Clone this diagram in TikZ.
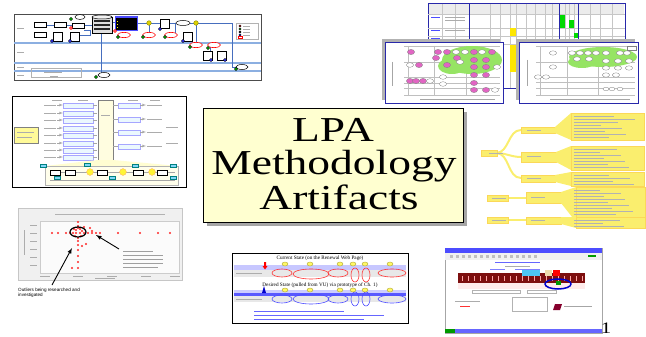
\documentclass[tikz,border=0pt]{standalone}
\usepackage{fontspec}
\setmainfont{Liberation Serif}
\newfontfamily\thumbsans{Liberation Sans}
\usetikzlibrary{positioning,shapes,shadows}

\definecolor{slideyellow}{RGB}{255,255,208}
\definecolor{laneblue}{RGB}{140,175,225}
\definecolor{linkblue}{RGB}{70,110,190}
\definecolor{mapyellow}{RGB}{250,238,110}
\definecolor{blobgreen}{RGB}{150,228,100}
\definecolor{dotpink}{RGB}{215,50,175}
\definecolor{bandred}{RGB}{125,15,15}
\definecolor{frameblue}{RGB}{40,40,170}

\tikzset{
  thumbframe/.style={draw=#1, line width=0.9pt, fill=white},
  titlebox/.style={draw=black, line width=0.8pt, fill=slideyellow,
    drop shadow={shadow xshift=4pt, shadow yshift=-4pt, fill=gray!70, opacity=1}},
  bigtext/.style={font=\fontsize{35}{36}\selectfont, inner sep=0pt},
  tinytext/.style={font=\thumbsans\fontsize{4.6}{5.4}\selectfont, inner sep=0pt, align=left},
  tinyserif/.style={font=\fontsize{5.2}{6}\selectfont, inner sep=0pt},
  flowbox/.style={draw=black, line width=0.5pt, fill=white},
  flowline/.style={draw=linkblue, line width=0.7pt},
  redoval/.style={draw=red, line width=0.6pt, fill=white},
  greendot/.style={draw=black, line width=0.3pt, fill=green!70!black},
  bluedot/.style={draw=black, line width=0.3pt, fill=blue!80},
  textbar/.style={draw=gray!65, line width=0.5pt},
  pinkdot/.style={draw=gray, line width=0.3pt, fill=dotpink!75},
  whitedot/.style={draw=gray, line width=0.3pt, fill=white},
  mapbox/.style={fill=mapyellow, draw=mapyellow!80!orange, line width=0.3pt},
  reddot/.style={fill=red!85}
}

\begin{document}
\begin{tikzpicture}[x=1pt, y=-1pt]
\useasboundingbox (0,0) rectangle (646,337);

% Flow chart (top left)
\draw[thumbframe=gray!60!black] (14,14) rectangle (261,80);
\foreach \y in {43,63,71}
  \draw[laneblue, line width=1.3pt] (14,\y) -- (261,\y);
\foreach \y in {28,52,67,75}
  \draw[textbar] (17,\y) -- (24,\y);
\draw[flowline] (46,25) -- (54,25);
\draw[flowline] (66,25) -- (72,25);
\draw[flowline] (84,25) -- (92,25);
\draw[flowline] (112,22) -- (115,22);
\draw[flowline] (137,23) -- (176,23);
\draw[flowline] (190,23) -- (232,23) -- (232,67) -- (236,67);
\draw[flowline] (196,23) -- (196,45);
\draw[flowline] (101,33) -- (101,75);
\draw[flowline] (149,23) -- (149,35);
\draw[flowline] (175,23) -- (175,35);
\draw[flowline] (210,45) -- (210,51);
\draw[flowline] (84,30) -- (90,30) -- (90,35) -- (80,35);
\foreach \x/\y in {40/25,40/35,60/25,78/26}
  \draw[flowbox] (\x-6,\y-2.5) rectangle (\x+6,\y+2.5);
\foreach \x/\y in {53/32,70/32,160/19,183/32,203/51,217/51}
  \draw[flowbox] (\x,\y) rectangle (\x+9,\y+9);
\draw[flowbox, fill=gray!25] (92,17) rectangle (112,33);
\draw[flowbox, fill=gray!10] (102,17) ellipse (10 and 2);
\foreach \y in {20,24,28}
  \fill[black!85] (94,\y) rectangle (110,\y+2.5);
\draw[fill=black, draw=blue!70] (115,16) rectangle (137,30);
\fill[blue!70] (115,16) rectangle (137,18.5);
\foreach \y in {21,24,27}
  \fill[yellow] (116.5,\y) rectangle (118,\y+1.2);
\foreach \x in {149,196}
  \draw[fill=yellow!70!olive, draw=olive] (\x,23) circle (2.3);
\foreach \x/\y/\rw in {80/17/5,183/23/7,104/75/6,242/67/6}
  \draw[flowbox] (\x,\y) ellipse ({\rw} and 2.5);
\foreach \x/\y in {124/35,149/35,171/35,196/45,214/45}
  \draw[redoval] (\x,\y) ellipse (6.5 and 2.6);
\foreach \x/\y in {71/19,118/37,143/37,165/37,96/77,236/69,190/47,208/48}
  \draw[greendot] (\x,\y) circle (1.7);
\foreach \x/\y in {52/41,70/41,160/29,183/41,211/60,225/60}
  \draw[bluedot] (\x,\y) circle (1.7);
\draw[red, fill=red!60] (115,31) circle (1.7);
\draw[red, fill=red!60] (71,28) circle (1.7);
\draw[draw=gray!60, line width=0.8pt, fill=white] (236,23) rectangle (258,39);
\foreach \y/\c in {26/red,29/green!70!black,32/black,35/blue} {
  \draw[fill=\c] (240,\y) circle (1.2);
  \draw[textbar] (243,\y) -- (250,\y);
}
\draw[red] (238,36.5) rectangle (242,38.5);
\draw[gray!60, line width=1pt] (31,69) rectangle (81,78);
\draw[textbar] (44,72) -- (62,72);
\draw[textbar] (50,76) -- (58,76);

% Spread sheet (top right)
\draw[thumbframe=frameblue] (428,3) rectangle (625,88);
\fill[gray!15] (429,4) rectangle (624,14);
\foreach \x in {442,455,469,490,500,510,516,526,535,545,552,559,565,569,574,578,590,600,612}
  \draw[gray!45, line width=0.3pt] (\x,4) -- (\x,88);
\foreach \y in {14,28,36,44}
  \draw[gray!45, line width=0.3pt] (428,\y) -- (625,\y);
\foreach \x in {469,559,578}
  \draw[frameblue, line width=0.8pt] (\x,3) -- (\x,88);
\fill[green!85!black] (560,15) rectangle (565,28);
\fill[green!85!black] (569,20) rectangle (574,28);
\fill[green!85!black] (574,33) rectangle (578,38);
\fill[yellow!90!orange] (510,28) rectangle (516,36);
\fill[yellow!90!orange] (510,45) rectangle (516,72);
\foreach \y in {17,30,38}
  \draw[blue!70, line width=0.6pt] (431,\y) -- (440,\y);
\foreach \y in {17,20,30}
  \draw[textbar] (445,\y) -- (465,\y);

% Left matrix chart
\fill[gray!60] (382,39) rectangle (500,100);
\draw[thumbframe=frameblue] (385,42) rectangle (503,103);
\foreach \x in {408,434,466}
  \draw[gray!50, line width=0.3pt] (\x,46) -- (\x,95);
\foreach \y in {46,62,77,83,88,95}
  \draw[gray!50, line width=0.3pt] (404,\y) -- (500,\y);
\draw[gray!70, line width=0.8pt] (392,62) -- (392,86);
\draw[gray!70, line width=0.8pt] (420,99) -- (495,99);
\fill[blobgreen] (472,60) ellipse (30 and 14);
\fill[blobgreen] (452,66) ellipse (14 and 8);
\foreach \x/\y in {411/52,419/65,410/81,416/81,423/81,438/52,447/52,436/58,447/65,457/58,474/52,492/52,474/60,486/60,474/67,486/67,474/75,486/75,474/83,474/90,486/90}
  \draw[pinkdot] (\x,\y) ellipse (3.6 and 2.6);
\foreach \x/\y in {410/65,430/81,456/52,465/52,460/62,482/52,497/67,443/77,443/84,495/90}
  \draw[whitedot] (\x,\y) ellipse (3.6 and 2.3);

% Right matrix chart
\fill[gray!60] (516,39) rectangle (635,100);
\draw[thumbframe=frameblue] (519,42) rectangle (638,103);
\foreach \x in {540,567,598}
  \draw[gray!50, line width=0.3pt] (\x,46) -- (\x,95);
\foreach \y in {46,62,77,82,88,95}
  \draw[gray!50, line width=0.3pt] (536,\y) -- (635,\y);
\draw[gray!70, line width=0.8pt] (527,60) -- (527,86);
\draw[gray!70, line width=0.8pt] (550,99) -- (630,99);
\fill[blobgreen] (603,57) ellipse (34 and 10);
\fill[blobgreen] (582,62) ellipse (14 and 6);
\foreach \x/\y in {572/53,580/53,588/53,596/53,577/59,589/59,606/53,620/53,606/61,618/61,629/61,606/68,618/68,629/68,553/53,553/67,538/77,546/77,606/75,616/75,627/53}
  \draw[whitedot] (\x,\y) ellipse (3.6 and 2.2);
\foreach \x in {606,612,620}
  \draw[whitedot] (\x,89) ellipse (3 and 1.8);
\draw[whitedot] (627,46) rectangle (636,50);

% Process map (middle left)
\draw[thumbframe=black] (12,96) rectangle (186,187);
\foreach \x in {52,78,104,128,150}
  \draw[textbar] (\x,100) -- (\x+10,100);
\foreach \y in {103,111,118,126,133,141,148,155} {
  \draw[fill=cyan!8, draw=blue!35] (63,\y) rectangle (93,\y+5);
  \draw[textbar] (44,\y+2) -- (56,\y+2);
  \draw[gray!70, -latex, line width=0.3pt] (57,\y+2) -- (63,\y+2);
  \draw[gray!70, line width=0.6pt] (93,\y+2) -- (97,\y+2);
}
\draw[fill=yellow!12, draw=gray] (98,100) rectangle (113,160);
\draw[textbar] (101,115) -- (110,115);
\foreach \y in {103,117,130,144} {
  \draw[fill=cyan!8, draw=blue!35] (118,\y) rectangle (140,\y+5);
  \draw[gray!70, line width=0.3pt] (113,\y+2) -- (118,\y+2);
  \draw[gray!70, -latex, line width=0.3pt] (140,\y+2) -- (146,\y+2);
  \draw[textbar] (147,\y+2) -- (162,\y+2);
}
\foreach \y in {127,143}
  \draw[textbar] (166,\y) -- (178,\y);
\draw[fill=yellow!40, draw=gray] (14,127) rectangle (38,143);
\draw[textbar] (17,132) -- (34,132);
\draw[textbar] (17,137) -- (32,137);
\fill[yellow!18] (98,160) -- (113,160) -- (178,166) -- (45,166) -- cycle;
\draw[fill=yellow!8, draw=gray!60] (45,166) rectangle (178,185);
\draw[gray!70, line width=0.4pt] (50,172) -- (175,172);
\draw[gray!70, line width=0.4pt] (50,180) -- (175,180);
\foreach \x in {90,123,152}
  \draw[fill=yellow!80, draw=orange!60] (\x,172) circle (3.4);
\foreach \x/\y in {43/166,87/165,135/166,173/166,57/178,112/178,173/178}
  \draw[fill=cyan!50, draw=teal] (\x-3,\y-1.5) rectangle (\x+3,\y+1.5);
\foreach \x in {55,70,102,138,162}
  \draw[flowbox] (\x-5,170) rectangle (\x+5,175);

% Title
\node[titlebox, minimum width=260pt, minimum height=114pt] (title) at (333,165) {};
\node[bigtext, anchor=base] (lpa) at (333,141) {\scalebox{1.3}[1]{LPA}};
\node[bigtext, anchor=base] (method) at (334,174) {\scalebox{1.3}[1]{Methodology}};
\node[bigtext, anchor=base] (artif) at (339,209) {\scalebox{1.3}[1]{Artifacts}};

% Mind map (middle right)
\foreach \y in {130,157,178}
  \draw[mapyellow, line width=2pt] (496,153) to[out=0, in=180] (521,\y);
\draw[mapbox] (481,150) rectangle (497,156);
\draw[mapbox] (521,127) rectangle (555,133);
\draw[mapbox] (521,152) rectangle (556,162);
\draw[mapbox] (521,175) rectangle (555,182);
\fill[mapyellow] (555,127) -- (571,113) -- (571,140) -- (555,133) -- cycle;
\fill[mapyellow] (556,152) -- (571,146) -- (571,170) -- (556,162) -- cycle;
\fill[mapyellow] (555,175) -- (571,172) -- (571,186) -- (555,182) -- cycle;
\draw[mapbox] (571,113) rectangle (644,140);
\draw[mapbox] (571,146) rectangle (644,170);
\draw[mapbox] (571,172) rectangle (644,186);
\draw[mapyellow, line width=1.5pt] (508,198) -- (526,198);
\draw[mapbox] (487,195) rectangle (508,201);
\draw[mapbox] (526,192) rectangle (561,203);
\fill[mapyellow] (561,192) -- (576,187) -- (576,222) -- (561,203) -- cycle;
\draw[mapbox] (576,187) rectangle (645,222);
\draw[mapyellow, line width=1.5pt] (508,220) -- (526,220);
\draw[mapbox] (487,217) rectangle (508,223);
\draw[mapbox] (526,217) rectangle (561,224);
\fill[mapyellow] (561,217) -- (576,217) -- (576,228) -- (561,224) -- cycle;
\draw[mapbox] (576,217) rectangle (645,228);
\foreach \y in {116,119,122,125,128,131,134,137,149,152,155,158,161,164,167,175,178,181,184,190,193,196,199,202,205,208,211,214,220,223,226}
  \draw[gray!60, line width=0.4pt] (574,\y) -- ({600+mod(int(\y*7),38)},\y);
\foreach \x/\y in {489/153,527/130,527/156,527/178,492/198,531/197,492/220,531/220}
  \draw[gray!60, line width=0.4pt] (\x,\y) -- (\x+14,\y);

% Scatter plot (bottom left)
\draw[fill=gray!12, draw=gray!45, line width=0.8pt] (18,208) rectangle (182,280);
\draw[fill=gray!3, draw=gray!40] (40,221) rectangle (179,273);
\draw[gray!60, line width=0.8pt] (55,214) -- (165,214);
\foreach \y in {225,233,241,249,257,265}
  \draw[textbar] (30,\y) -- (37,\y);
\draw[textbar] (24,230) -- (24,255);
\foreach \x in {45,78,112,146,175}
  \draw[textbar] (\x-5,276) -- (\x+5,276);
\draw[textbar] (95,278) -- (115,278);
\foreach \x in {52,58,66,70,73,76,80,84,88,92,96,100,118,140,158,170}
  \fill[reddot] (\x,233) circle (1.1);
\foreach \y in {222,226,228,238,241,245,250,256,262,268}
  \fill[reddot] (78,\y) circle (1.1);
\foreach \x/\y in {74/229,76/230,80/229,82/231,75/236,81/236,84/227,90/228,92/231,72/268,82/246,86/244}
  \fill[reddot] (\x,\y) circle (1.1);
\node[draw, ellipse, line width=1.2pt, minimum width=16, minimum height=10, inner sep=0pt] (clus) at (78,232) {};
\coordinate (clhead) at (96,235);
\coordinate (cltail) at (119,249);
\draw[-latex, line width=0.9pt] (cltail) -- (clhead);
\foreach \y/\rw in {251/30,255/40,259/40,263/40,267/35}
  \draw[gray!75, line width=0.8pt] (123,\y) -- ({123+\rw},\y);
\coordinate (outtail) at (52,285);
\coordinate (outhead) at (72,248);
\draw[-latex, line width=0.9pt] (outtail) -- (outhead);
\node[tinytext, anchor=north west] (outliers) at (18,288) {Outliers being researched and\\investigated};

% Web page comparison (bottom middle)
\draw[thumbframe=black] (232,253) rectangle (408,323);
\node[tinyserif] (current) at (320,258) {Current State (on the Renewal Web Page)};
\fill[blue!22] (234,265) rectangle (406,270);
\fill[gray!18] (234,270) rectangle (406,277);
\draw[textbar] (236,273) -- (262,273);
\fill[red] (264,262) -- (266,262) -- (266,266) -- (267.5,266) -- (265,269.5) -- (262.5,266) -- (264,266) -- cycle;
\foreach \x/\y/\ra/\rb in {282/273/10/4,311/274/18/5,338/273/10/4,355/275/4/7,366/275/4/7,392/273/14/4}
  \draw[red!80, line width=0.6pt] (\x,\y) ellipse ({\ra} and {\rb});
\foreach \x in {285,310,340,353,365,390}
  \draw[fill=yellow!60, draw=olive!70] (\x,264) ellipse (3 and 2);
\node[tinyserif] (desired) at (320,285) {Desired State (pulled from VU) via prototype of Ch. 1)};
\fill[blue!20] (234,290) rectangle (406,293);
\fill[blue!65] (234,293) rectangle (406,296);
\fill[gray!18] (234,296) rectangle (406,302);
\draw[textbar] (236,299) -- (262,299);
\fill[blue!80!black] (262,293) -- (264,286) -- (266,293) -- cycle;
\foreach \x/\y/\ra/\rb in {282/299/10/4,311/299/18/5,338/299/10/4,355/299/4/7,366/299/4/7,392/299/14/4}
  \draw[blue!70, line width=0.6pt] (\x,\y) ellipse ({\ra} and {\rb});
\foreach \x in {285,310,340,353,365,390}
  \draw[fill=yellow!60, draw=olive!70] (\x,290) ellipse (3 and 2);
\foreach \y/\rw in {311/90,315/130,319/110}
  \draw[blue!60, line width=0.6pt] (254,\y) -- ({254+\rw},\y);

% Web screen shot (bottom right)
\draw[draw=gray!70, fill=white] (445,248) rectangle (602,333);
\fill[blue!70] (445,248) rectangle (602,253);
\fill[gray!12] (445,253) rectangle (602,260);
\foreach \x in {450,456,462,468,474,480,486,492,498,504,510,516,522,528,534}
  \fill[gray!50] (\x,255) rectangle (\x+3,258);
\fill[green!60!black] (588,255) rectangle (596,257);
\draw[blue!60, line width=0.6pt] (495,262) -- (540,262);
\draw[textbar] (505,266) -- (530,266);
\draw[blue!50, line width=0.5pt] (490,269) -- (505,269);
\draw[blue!50, line width=0.5pt] (515,269) -- (540,269);
\fill[bandred] (458,273) rectangle (585,283);
\foreach \x in {462,468,...,582}
  \draw[red!35, line width=0.3pt] (\x,276) -- (\x,281);
\fill[cyan!70] (522,270) rectangle (540,276);
\fill[yellow!30!brown!40] (545,270) rectangle (552,276);
\fill[red] (553,270) rectangle (560,276);
\fill[red!8] (458,283) rectangle (585,289);
\fill[green!60!black] (556,281) rectangle (561,285);
\draw[blue!80!black, line width=1.5pt] (558,284) ellipse (13 and 5);
\draw[gray!60] (472,290) rectangle (520,293);
\draw[gray!60] (527,290) rectangle (556,293);
\draw[gray!60] (512,297) rectangle (547,311);
\draw[textbar] (455,301) -- (480,301);
\draw[red!80, line width=0.6pt] (460,306) -- (470,306);
\fill[purple!70!black] (555,304) -- (562,304) -- (560,310) -- (553,310) -- cycle;
\draw[gray!70, line width=0.6pt] (564,306) -- (592,306);
\fill[blue!60] (445,329) rectangle (602,333);
\fill[green!60!black] (445,329) rectangle (455,333);

% Slide number
\node[font=\fontsize{16}{16}\selectfont, inner sep=0pt, anchor=base] (pageno) at (606,333) {\scalebox{1.3}[1]{1}};

\end{tikzpicture}
\end{document}
